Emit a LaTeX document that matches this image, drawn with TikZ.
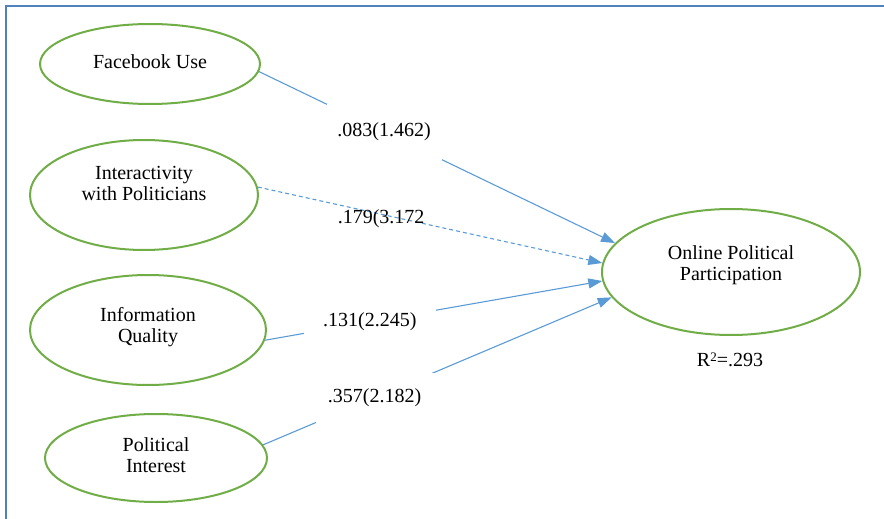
\documentclass[tikz,border=0pt]{standalone}
\usepackage{fontspec}
\setmainfont{Liberation Serif}
\usetikzlibrary{shapes.geometric,arrows.meta}
\definecolor{lgreen}{HTML}{70AD47}
\definecolor{lblue}{HTML}{5B9BD5}
\definecolor{frameblue}{HTML}{4F81BD}
\begin{document}
\begin{tikzpicture}[x=0.5pt,y=-0.5pt,
 latent/.style={ellipse,draw=lgreen,line width=1pt,inner sep=0pt,align=center,font=\fontsize{10}{10.5}\selectfont},
 pathline/.style={draw=lblue,line width=0.55pt,-{Triangle[length=7pt,width=5pt]}},
 coef/.style={font=\fontsize{10}{12}\selectfont,inner sep=0pt},
 gapbox/.style={fill=white}]
\useasboundingbox (0,0) rectangle (884,519);
\draw[frameblue,line width=1.2pt] (884,6) -- (6,6) -- (6,519);

\node[latent,minimum width=110pt,minimum height=40pt,text depth=2pt] (fb) at (150,64) {Facebook Use};
\node[latent,minimum width=114pt,minimum height=55pt,text depth=12pt] (int) at (144,195) {Interactivity\\with Politicians};
\node[latent,minimum width=118pt,minimum height=55pt,text depth=5pt] (iq) at (148,330) {Information\\Quality};
\node[latent,minimum width=111pt,minimum height=44pt,text depth=3pt] (pi) at (156,458) {Political\\Interest};
\node[latent,minimum width=129pt,minimum height=63pt,text depth=9pt] (opp) at (731,272) {Online Political\\Participation};
\node[coef] (r2) at (730,360) {R{\fontsize{6.5}{7}\selectfont\raisebox{2.8pt}{2}}=.293};

\draw[pathline] (fb.-4) -- node[coef,gapbox,pos=0.351,minimum width=57.5pt,minimum height=28pt] (l1) {.083(1.462)} (opp.166);
\draw[pathline,dash pattern=on 2pt off 1.5pt] (int.4) -- node[coef,pos=0.358,yshift=-2pt] (l2) {.179(3.172} (opp.176);
\draw[pathline] (iq.-5) -- node[coef,gapbox,pos=0.311,minimum width=66pt,minimum height=20pt] (l3) {.131(2.245)} (opp.184.5);
\draw[pathline] (pi.7) -- node[coef,gapbox,pos=0.32,minimum width=59pt,minimum height=25pt] (l4) {.357(2.182)} (opp.192.8);
\end{tikzpicture}
\end{document}
